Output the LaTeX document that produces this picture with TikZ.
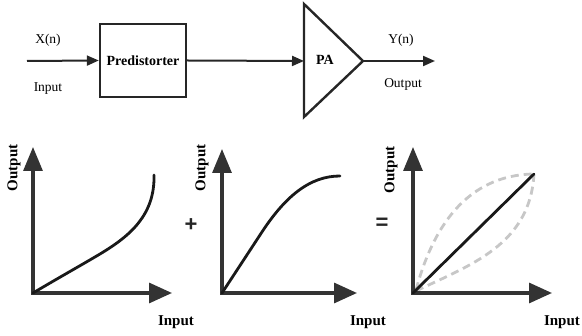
\documentclass[tikz,border=0pt]{standalone}
\usepackage{fontspec}
\setmainfont{Liberation Serif}
\newfontfamily\opfont{Liberation Sans}
\usetikzlibrary{arrows.meta}
\begin{document}
\begin{tikzpicture}[x=1pt,y=-1pt,
  sig/.style={line width=2pt, draw=black!85, -{Triangle[length=12pt,width=10pt]}},
  blk/.style={draw=black!85, line width=2.4pt, minimum width=86pt, minimum height=73pt, inner sep=0pt, font=\fontsize{14}{16}\selectfont\bfseries},
  lbl/.style={font=\fontsize{13.5}{15}\selectfont, inner sep=0pt},
  axlbl/.style={font=\fontsize{15}{17}\selectfont\bfseries, inner sep=0pt},
  axis/.style={draw=black!80, line width=3.2pt, line join=miter,
     {Triangle[length=24pt,width=19pt]}-{Triangle[length=23pt,width=20pt]}},
  curve/.style={draw=black!90, line width=2.8pt, line cap=round},
  ghost/.style={draw=black!22, line width=2.8pt, dash pattern=on 8pt off 5pt},
  op/.style={font=\fontsize{22}{24}\selectfont\opfont\bfseries, inner sep=0pt, text=black!85}]
\useasboundingbox (0,0) rectangle (582,336);
% ---- top chain
\coordinate (in) at (27,61);
\node[blk] (pre) at (143,60.5) {Predistorter};
\coordinate (paL) at (304,61);
\coordinate (paT) at (304,4);
\coordinate (paB) at (304,117);
\coordinate (paR) at (363,61);
\coordinate (out) at (435,61);
\draw[draw=black!85, line width=2.4pt, line join=miter] (paT) -- (paR) -- (paB) -- cycle;
\node[font=\fontsize{14}{16}\selectfont\bfseries, inner sep=0pt] (pa) at (325,60) {PA};
\draw[sig] (in) -- (pre.west);
\draw[sig] (pre.east) -- (paL);
\draw[sig] (paR) -- (out);
\node[lbl] (xn) at (48,40) {X(n)};
\node[lbl] (inp) at (48,89) {Input};
\node[lbl] (yn) at (401,40) {Y(n)};
\node[lbl] (outp) at (403,84) {Output};
% ---- plot 1
\coordinate (o1) at (33,293);
\coordinate (y1) at (33,147);
\coordinate (x1) at (172,293);
\draw[axis] (y1) -- (o1) -- (x1);
\draw[curve] (o1) .. controls (60,277) and (85,263) .. (100,254)
   .. controls (130,236) and (155,215) .. (154,175);
\node[axlbl, rotate=90] (yl1) at (14,168) {Output};
\node[axlbl] (xl1) at (176,322) {Input};
\node[op] (plus) at (191,225) {+};
% ---- plot 2
\coordinate (o2) at (222,293);
\coordinate (y2) at (222,149);
\coordinate (x2) at (357,293);
\draw[axis] (y2) -- (o2) -- (x2);
\draw[curve] (o2) -- (260,235) .. controls (285,196) and (310,176) .. (340,176);
\node[axlbl, rotate=90] (yl2) at (202,168) {Output};
\node[axlbl] (xl2) at (368,322) {Input};
\node[op] (eq) at (382,224) {=};
% ---- plot 3
\coordinate (o3) at (413,293);
\coordinate (y3) at (413,147);
\coordinate (x3) at (552,293);
\coordinate (top3) at (534,174);
\draw[ghost] (416,290) .. controls (432,230) and (465,175) .. (top3);
\draw[ghost] (416,291) .. controls (470,265) and (530,245) .. (top3);
\draw[axis] (y3) -- (o3) -- (x3);
\draw[curve] (o3) -- (top3);
\node[axlbl, rotate=90] (yl3) at (391,170) {Output};
\node[axlbl] (xl3) at (562,322) {Input};
\end{tikzpicture}
\end{document}
